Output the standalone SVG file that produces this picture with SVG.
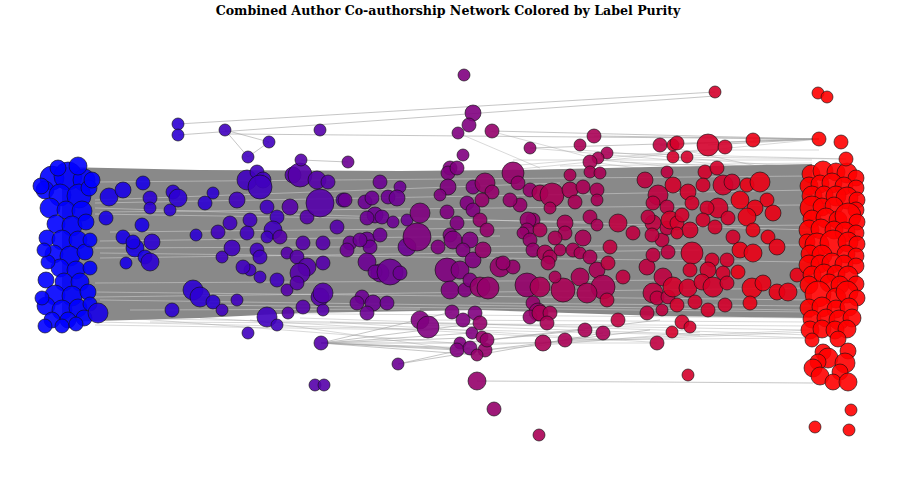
<svg xmlns="http://www.w3.org/2000/svg" width="897" height="494" viewBox="0 0 897 494">
<style>
.t{font-family:"DejaVu Serif","Liberation Serif",serif;font-weight:bold;font-size:12.6px;fill:#000}
.band{fill:#898989}
.f{stroke:#9a9a9a;stroke-width:0.7;stroke-opacity:0.55;fill:none}
.e{stroke:#a0a0a0;stroke-width:0.8;stroke-opacity:0.75;fill:none}
.w{stroke:#ececec;stroke-width:0.8;stroke-opacity:0.5;fill:none}
circle{stroke:#111;stroke-width:0.8;stroke-opacity:0.8;fill-opacity:0.9}
.c0{fill:#0000ff}.c1{fill:#1800e7}.c2{fill:#2c00d3}.c3{fill:#4000bf}.c4{fill:#5500aa}.c5{fill:#6b0094}.c6{fill:#800080}.c7{fill:#95006a}.c8{fill:#aa0055}.c9{fill:#bf0040}.c10{fill:#d4002b}.c11{fill:#ea0015}.c12{fill:#ff0000}
</style>
<rect width="897" height="494" fill="#fff"/>
<text class="t" x="448" y="15" text-anchor="middle">Combined Author Co-authorship Network Colored by Label Purity</text>
<g id="edges">
<path class="f" d="M95,318 L810,330 M95,322 L700,335 M100,316 L480,345 M200,318 L600,340 M250,320 L460,350 M300,318 L810,335 M330,322 L650,342 M420,325 L810,338 M480,345 L810,330 M485,350 L700,332 M460,343 L657,343 M543,343 L810,332 M565,340 L812,338 M420,320 L812,322 M95,312 L812,318 M95,325 L420,330 M150,322 L812,326 M470,172 L812,165 M513,160 L812,160 M580,150 L812,168 M600,160 L810,180 M530,148 L812,172 M660,145 L812,178 M590,162 L812,190 M520,165 L700,150 M490,172 L819,139 M440,172 L812,166 M608,153 L846,159 M673,157 L846,159 M700,150 L819,150 M560,166 L812,163 M620,162 L815,170 M490,131 L600,160 M458,133 L540,168"/>
<path class="band" d="M62,167 L200,170 L400,171 L520,170 L650,167 L812,164 L812,318 L660,316 L480,310 L300,313 L200,318 L62,322 Z"/>
<path class="w" d="M95,203 L810,190 M95,208 L810,230 M100,212 L800,205 M95,248 L810,245 M100,253 L810,262 M100,258 L700,250 M95,292 L810,300 M95,297 L810,288 M100,300 L800,310 M95,214 L600,222 M95,200 L560,183 M95,283 L700,280 M110,232 L810,225 M100,241 L500,236 M200,305 L810,312 M130,310 L420,309 M480,303 L812,306 M95,182 L810,176"/>
<path class="e" d="M178,124 L715,92 M178,135 L715,96 M225,130 L269,142 L248,157 Z M230,134 L819,139 M301,160 L348,162 M492,131 L819,139 M530,148 L819,139 M594,136 L819,139 M660,145 L819,139 M708,145 L819,139 M753,140 L819,139 M321,343 L460,343 M321,343 L472,333 M321,343 L457,350 M321,343 L485,350 M321,343 L480,323 M321,343 L470,348 M321,343 L452,312 M321,343 L465,338 M321,343 L477,355 M398,364 L470,348 M398,364 L485,350 M477,381 L813,383 M485,350 L650,330 M487,340 L660,320 M477,355 L603,333 M460,343 L585,330"/>
</g>
<g id="nodes">
<circle id="n1" class="c0" cx="52" cy="178" r="12"/>
<circle id="n2" class="c0" cx="68" cy="176" r="14"/>
<circle id="n3" class="c0" cx="84" cy="180" r="11"/>
<circle id="n4" class="c0" cx="45" cy="190" r="9"/>
<circle id="n5" class="c0" cx="60" cy="195" r="11"/>
<circle id="n6" class="c0" cx="79" cy="196" r="12"/>
<circle id="n7" class="c0" cx="89" cy="188" r="8"/>
<circle id="n8" class="c0" cx="50" cy="208" r="10"/>
<circle id="n9" class="c0" cx="66" cy="210" r="9"/>
<circle id="n10" class="c0" cx="82" cy="211" r="10"/>
<circle id="n11" class="c0" cx="56" cy="224" r="9"/>
<circle id="n12" class="c0" cx="72" cy="226" r="10"/>
<circle id="n13" class="c0" cx="86" cy="222" r="8"/>
<circle id="n14" class="c0" cx="47" cy="238" r="8"/>
<circle id="n15" class="c0" cx="62" cy="240" r="10"/>
<circle id="n16" class="c0" cx="78" cy="240" r="9"/>
<circle id="n17" class="c0" cx="54" cy="254" r="9"/>
<circle id="n18" class="c0" cx="70" cy="256" r="10"/>
<circle id="n19" class="c0" cx="85" cy="252" r="8"/>
<circle id="n20" class="c0" cx="60" cy="268" r="9"/>
<circle id="n21" class="c0" cx="76" cy="270" r="9"/>
<circle id="n22" class="c0" cx="48" cy="262" r="7"/>
<circle id="n23" class="c0" cx="46" cy="280" r="8"/>
<circle id="n24" class="c0" cx="64" cy="282" r="9"/>
<circle id="n25" class="c0" cx="80" cy="282" r="9"/>
<circle id="n26" class="c0" cx="55" cy="295" r="10"/>
<circle id="n27" class="c0" cx="72" cy="296" r="10"/>
<circle id="n28" class="c0" cx="88" cy="292" r="8"/>
<circle id="n29" class="c0" cx="46" cy="306" r="9"/>
<circle id="n30" class="c0" cx="62" cy="310" r="10"/>
<circle id="n31" class="c0" cx="78" cy="308" r="9"/>
<circle id="n32" class="c0" cx="90" cy="304" r="7"/>
<circle id="n33" class="c0" cx="52" cy="320" r="8"/>
<circle id="n34" class="c0" cx="68" cy="320" r="8"/>
<circle id="n35" class="c0" cx="84" cy="318" r="8"/>
<circle id="n36" class="c0" cx="45" cy="326" r="7"/>
<circle id="n37" class="c0" cx="42" cy="298" r="7"/>
<circle id="n38" class="c0" cx="44" cy="250" r="7"/>
<circle id="n39" class="c0" cx="90" cy="240" r="7"/>
<circle id="n40" class="c0" cx="90" cy="268" r="7"/>
<circle id="n41" class="c0" cx="58" cy="168" r="8"/>
<circle id="n42" class="c0" cx="78" cy="166" r="9"/>
<circle id="n43" class="c0" cx="41" cy="186" r="8"/>
<circle id="n44" class="c0" cx="92" cy="180" r="8"/>
<circle id="n44b" class="c0" cx="62" cy="326" r="7"/>
<circle id="n44c" class="c0" cx="76" cy="324" r="7"/>
<circle id="n45" class="c1" cx="98" cy="313" r="10"/>
<circle id="n46" class="c1" cx="109" cy="197" r="9"/>
<circle id="n47" class="c1" cx="123" cy="190" r="8"/>
<circle id="n48" class="c1" cx="143" cy="183" r="7"/>
<circle id="n49" class="c1" cx="106" cy="218" r="7"/>
<circle id="n50" class="c1" cx="123" cy="237" r="7"/>
<circle id="n51" class="c1" cx="135" cy="248" r="9"/>
<circle id="n52" class="c1" cx="142" cy="225" r="7"/>
<circle id="n53" class="c1" cx="133" cy="242" r="7"/>
<circle id="n54" class="c1" cx="126" cy="263" r="6"/>
<circle id="n55" class="c1" cx="145" cy="257" r="7"/>
<circle id="n56" class="c2" cx="150" cy="198" r="7"/>
<circle id="n57" class="c2" cx="150" cy="208" r="6"/>
<circle id="n58" class="c2" cx="173" cy="192" r="7"/>
<circle id="n59" class="c2" cx="178" cy="198" r="9"/>
<circle id="n60" class="c2" cx="170" cy="210" r="6"/>
<circle id="n61" class="c2" cx="152" cy="242" r="8"/>
<circle id="n62" class="c2" cx="150" cy="262" r="9"/>
<circle id="n63" class="c2" cx="193" cy="290" r="10"/>
<circle id="n64" class="c2" cx="200" cy="297" r="10"/>
<circle id="n65" class="c2" cx="213" cy="302" r="7"/>
<circle id="n66" class="c2" cx="172" cy="310" r="7"/>
<circle id="n67" class="c2" cx="196" cy="235" r="6"/>
<circle id="n68" class="c2" cx="205" cy="203" r="7"/>
<circle id="n69" class="c2" cx="213" cy="193" r="6"/>
<circle id="n70" class="c2" cx="178" cy="124" r="6"/>
<circle id="n71" class="c2" cx="178" cy="135" r="6"/>
<circle id="n72" class="c3" cx="222" cy="310" r="6"/>
<circle id="n73" class="c3" cx="237" cy="300" r="6"/>
<circle id="n74" class="c3" cx="225" cy="130" r="6"/>
<circle id="n75" class="c3" cx="269" cy="142" r="6"/>
<circle id="n76" class="c3" cx="248" cy="157" r="6"/>
<circle id="n77" class="c3" cx="247" cy="180" r="10"/>
<circle id="n78" class="c3" cx="257" cy="172" r="7"/>
<circle id="n79" class="c3" cx="263" cy="180" r="8"/>
<circle id="n80" class="c3" cx="260" cy="187" r="12"/>
<circle id="n81" class="c3" cx="237" cy="200" r="8"/>
<circle id="n82" class="c3" cx="267" cy="207" r="7"/>
<circle id="n83" class="c3" cx="277" cy="217" r="7"/>
<circle id="n84" class="c3" cx="250" cy="220" r="7"/>
<circle id="n85" class="c3" cx="273" cy="230" r="9"/>
<circle id="n86" class="c3" cx="267" cy="237" r="6"/>
<circle id="n87" class="c3" cx="247" cy="233" r="7"/>
<circle id="n88" class="c3" cx="230" cy="223" r="7"/>
<circle id="n89" class="c3" cx="218" cy="232" r="7"/>
<circle id="n90" class="c3" cx="232" cy="248" r="8"/>
<circle id="n91" class="c3" cx="222" cy="257" r="6"/>
<circle id="n92" class="c3" cx="257" cy="250" r="7"/>
<circle id="n93" class="c3" cx="260" cy="257" r="7"/>
<circle id="n94" class="c3" cx="250" cy="270" r="6"/>
<circle id="n95" class="c3" cx="260" cy="277" r="6"/>
<circle id="n96" class="c3" cx="243" cy="267" r="7"/>
<circle id="n97" class="c3" cx="277" cy="280" r="7"/>
<circle id="n98" class="c3" cx="267" cy="317" r="10"/>
<circle id="n99" class="c3" cx="277" cy="325" r="6"/>
<circle id="n100" class="c3" cx="248" cy="333" r="6"/>
<circle id="n101" class="c4" cx="293" cy="175" r="8"/>
<circle id="n102" class="c4" cx="300" cy="175" r="12"/>
<circle id="n103" class="c4" cx="317" cy="180" r="9"/>
<circle id="n104" class="c4" cx="328" cy="182" r="7"/>
<circle id="n105" class="c4" cx="343" cy="200" r="7"/>
<circle id="n106" class="c4" cx="290" cy="207" r="8"/>
<circle id="n107" class="c4" cx="307" cy="217" r="7"/>
<circle id="n108" class="c4" cx="320" cy="203" r="14"/>
<circle id="n109" class="c4" cx="280" cy="237" r="7"/>
<circle id="n110" class="c4" cx="287" cy="253" r="6"/>
<circle id="n111" class="c4" cx="303" cy="243" r="7"/>
<circle id="n112" class="c4" cx="323" cy="243" r="7"/>
<circle id="n113" class="c4" cx="337" cy="227" r="7"/>
<circle id="n114" class="c4" cx="297" cy="257" r="7"/>
<circle id="n115" class="c4" cx="307" cy="267" r="9"/>
<circle id="n116" class="c4" cx="300" cy="273" r="10"/>
<circle id="n117" class="c4" cx="323" cy="263" r="7"/>
<circle id="n118" class="c4" cx="287" cy="290" r="6"/>
<circle id="n119" class="c4" cx="297" cy="283" r="7"/>
<circle id="n120" class="c4" cx="320" cy="297" r="9"/>
<circle id="n121" class="c4" cx="323" cy="293" r="10"/>
<circle id="n122" class="c4" cx="303" cy="307" r="7"/>
<circle id="n123" class="c4" cx="323" cy="310" r="6"/>
<circle id="n124" class="c4" cx="288" cy="313" r="6"/>
<circle id="n125" class="c4" cx="320" cy="130" r="6"/>
<circle id="n126" class="c4" cx="301" cy="160" r="6"/>
<circle id="n127" class="c4" cx="321" cy="343" r="7"/>
<circle id="n128" class="c4" cx="315" cy="385" r="6"/>
<circle id="n129" class="c4" cx="324" cy="385" r="6"/>
<circle id="n130" class="c5" cx="350" cy="243" r="7"/>
<circle id="n131" class="c5" cx="367" cy="240" r="8"/>
<circle id="n132" class="c5" cx="348" cy="162" r="6"/>
<circle id="n133" class="c5" cx="380" cy="182" r="7"/>
<circle id="n134" class="c5" cx="400" cy="187" r="6"/>
<circle id="n135" class="c5" cx="365" cy="202" r="7"/>
<circle id="n136" class="c5" cx="372" cy="198" r="7"/>
<circle id="n137" class="c5" cx="388" cy="197" r="7"/>
<circle id="n138" class="c5" cx="397" cy="198" r="8"/>
<circle id="n139" class="c5" cx="345" cy="200" r="7"/>
<circle id="n140" class="c5" cx="375" cy="215" r="8"/>
<circle id="n141" class="c5" cx="382" cy="217" r="7"/>
<circle id="n142" class="c5" cx="367" cy="218" r="7"/>
<circle id="n143" class="c5" cx="393" cy="222" r="6"/>
<circle id="n144" class="c5" cx="407" cy="220" r="6"/>
<circle id="n145" class="c5" cx="380" cy="235" r="7"/>
<circle id="n146" class="c5" cx="370" cy="247" r="7"/>
<circle id="n147" class="c5" cx="360" cy="240" r="7"/>
<circle id="n148" class="c5" cx="347" cy="250" r="7"/>
<circle id="n149" class="c5" cx="367" cy="262" r="9"/>
<circle id="n150" class="c5" cx="380" cy="273" r="9"/>
<circle id="n151" class="c5" cx="375" cy="272" r="7"/>
<circle id="n152" class="c5" cx="390" cy="272" r="13"/>
<circle id="n153" class="c5" cx="400" cy="273" r="7"/>
<circle id="n154" class="c5" cx="362" cy="297" r="7"/>
<circle id="n155" class="c5" cx="373" cy="303" r="8"/>
<circle id="n156" class="c5" cx="357" cy="303" r="7"/>
<circle id="n157" class="c5" cx="367" cy="313" r="7"/>
<circle id="n158" class="c5" cx="387" cy="303" r="7"/>
<circle id="n159" class="c5" cx="407" cy="247" r="9"/>
<circle id="n160" class="c5" cx="398" cy="364" r="6"/>
<circle id="n161" class="c6" cx="420" cy="213" r="10"/>
<circle id="n162" class="c6" cx="417" cy="237" r="14"/>
<circle id="n163" class="c6" cx="420" cy="320" r="9"/>
<circle id="n164" class="c6" cx="428" cy="327" r="11"/>
<circle id="n165" class="c6" cx="450" cy="168" r="7"/>
<circle id="n166" class="c6" cx="448" cy="173" r="7"/>
<circle id="n167" class="c6" cx="448" cy="187" r="8"/>
<circle id="n168" class="c6" cx="440" cy="195" r="6"/>
<circle id="n169" class="c6" cx="447" cy="212" r="7"/>
<circle id="n170" class="c6" cx="457" cy="223" r="7"/>
<circle id="n171" class="c6" cx="450" cy="235" r="7"/>
<circle id="n172" class="c6" cx="438" cy="247" r="7"/>
<circle id="n173" class="c6" cx="453" cy="240" r="9"/>
<circle id="n174" class="c6" cx="470" cy="240" r="8"/>
<circle id="n175" class="c6" cx="463" cy="250" r="7"/>
<circle id="n176" class="c6" cx="447" cy="270" r="12"/>
<circle id="n177" class="c6" cx="460" cy="270" r="9"/>
<circle id="n178" class="c6" cx="473" cy="260" r="8"/>
<circle id="n179" class="c6" cx="450" cy="290" r="9"/>
<circle id="n180" class="c6" cx="465" cy="290" r="7"/>
<circle id="n181" class="c6" cx="470" cy="280" r="7"/>
<circle id="n182" class="c6" cx="452" cy="312" r="7"/>
<circle id="n183" class="c6" cx="463" cy="320" r="7"/>
<circle id="n184" class="c6" cx="475" cy="313" r="7"/>
<circle id="n185" class="c6" cx="472" cy="333" r="6"/>
<circle id="n186" class="c6" cx="460" cy="343" r="6"/>
<circle id="n187" class="c6" cx="457" cy="350" r="7"/>
<circle id="n188" class="c6" cx="470" cy="348" r="7"/>
<circle id="n189" class="c6" cx="463" cy="155" r="6"/>
<circle id="n190" class="c6" cx="457" cy="168" r="7"/>
<circle id="n191" class="c6" cx="473" cy="187" r="7"/>
<circle id="n192" class="c6" cx="467" cy="203" r="7"/>
<circle id="n193" class="c6" cx="473" cy="210" r="7"/>
<circle id="n194" class="c6" cx="464" cy="75" r="6"/>
<circle id="n195" class="c6" cx="473" cy="113" r="8"/>
<circle id="n196" class="c6" cx="469" cy="125" r="7"/>
<circle id="n197" class="c6" cx="458" cy="133" r="6"/>
<circle id="n198" class="c7" cx="480" cy="220" r="7"/>
<circle id="n199" class="c7" cx="487" cy="230" r="7"/>
<circle id="n200" class="c7" cx="483" cy="250" r="8"/>
<circle id="n201" class="c7" cx="480" cy="287" r="10"/>
<circle id="n202" class="c7" cx="488" cy="288" r="11"/>
<circle id="n203" class="c7" cx="480" cy="323" r="7"/>
<circle id="n204" class="c7" cx="482" cy="337" r="6"/>
<circle id="n205" class="c7" cx="485" cy="350" r="7"/>
<circle id="n206" class="c7" cx="477" cy="355" r="6"/>
<circle id="n207" class="c7" cx="487" cy="340" r="7"/>
<circle id="n208" class="c7" cx="485" cy="183" r="10"/>
<circle id="n209" class="c7" cx="492" cy="192" r="7"/>
<circle id="n210" class="c7" cx="482" cy="200" r="7"/>
<circle id="n211" class="c7" cx="513" cy="173" r="11"/>
<circle id="n212" class="c7" cx="530" cy="148" r="6"/>
<circle id="n213" class="c7" cx="530" cy="190" r="7"/>
<circle id="n214" class="c7" cx="518" cy="183" r="7"/>
<circle id="n215" class="c7" cx="520" cy="205" r="7"/>
<circle id="n216" class="c7" cx="510" cy="200" r="7"/>
<circle id="n217" class="c7" cx="533" cy="220" r="7"/>
<circle id="n218" class="c7" cx="528" cy="220" r="8"/>
<circle id="n219" class="c7" cx="527" cy="230" r="7"/>
<circle id="n220" class="c7" cx="523" cy="233" r="6"/>
<circle id="n221" class="c7" cx="530" cy="240" r="7"/>
<circle id="n222" class="c7" cx="533" cy="250" r="7"/>
<circle id="n223" class="c7" cx="500" cy="267" r="10"/>
<circle id="n224" class="c7" cx="513" cy="267" r="7"/>
<circle id="n225" class="c7" cx="503" cy="263" r="7"/>
<circle id="n226" class="c7" cx="527" cy="285" r="12"/>
<circle id="n227" class="c7" cx="533" cy="303" r="7"/>
<circle id="n228" class="c7" cx="538" cy="312" r="9"/>
<circle id="n229" class="c7" cx="530" cy="317" r="7"/>
<circle id="n230" class="c7" cx="492" cy="131" r="7"/>
<circle id="n231" class="c7" cx="477" cy="381" r="9"/>
<circle id="n232" class="c7" cx="494" cy="409" r="7"/>
<circle id="n233" class="c8" cx="540" cy="193" r="8"/>
<circle id="n234" class="c8" cx="540" cy="230" r="7"/>
<circle id="n235" class="c8" cx="545" cy="253" r="8"/>
<circle id="n236" class="c8" cx="540" cy="287" r="10"/>
<circle id="n237" class="c8" cx="540" cy="313" r="8"/>
<circle id="n238" class="c8" cx="543" cy="343" r="8"/>
<circle id="n239" class="c8" cx="594" cy="136" r="7"/>
<circle id="n240" class="c8" cx="580" cy="145" r="6"/>
<circle id="n241" class="c8" cx="607" cy="153" r="6"/>
<circle id="n242" class="c8" cx="598" cy="158" r="6"/>
<circle id="n243" class="c8" cx="590" cy="162" r="7"/>
<circle id="n244" class="c8" cx="590" cy="172" r="6"/>
<circle id="n245" class="c8" cx="600" cy="173" r="6"/>
<circle id="n246" class="c8" cx="570" cy="175" r="6"/>
<circle id="n247" class="c8" cx="552" cy="195" r="12"/>
<circle id="n248" class="c8" cx="570" cy="190" r="8"/>
<circle id="n249" class="c8" cx="583" cy="187" r="7"/>
<circle id="n250" class="c8" cx="597" cy="190" r="7"/>
<circle id="n251" class="c8" cx="575" cy="202" r="7"/>
<circle id="n252" class="c8" cx="597" cy="200" r="6"/>
<circle id="n253" class="c8" cx="550" cy="208" r="6"/>
<circle id="n254" class="c8" cx="565" cy="223" r="8"/>
<circle id="n255" class="c8" cx="565" cy="233" r="7"/>
<circle id="n256" class="c8" cx="583" cy="238" r="8"/>
<circle id="n257" class="c8" cx="590" cy="217" r="7"/>
<circle id="n258" class="c8" cx="597" cy="225" r="6"/>
<circle id="n259" class="c8" cx="555" cy="238" r="7"/>
<circle id="n260" class="c8" cx="550" cy="257" r="7"/>
<circle id="n261" class="c8" cx="560" cy="250" r="6"/>
<circle id="n262" class="c8" cx="573" cy="250" r="7"/>
<circle id="n263" class="c8" cx="580" cy="253" r="6"/>
<circle id="n264" class="c8" cx="590" cy="257" r="7"/>
<circle id="n265" class="c8" cx="597" cy="270" r="8"/>
<circle id="n266" class="c8" cx="580" cy="277" r="9"/>
<circle id="n267" class="c8" cx="603" cy="287" r="12"/>
<circle id="n268" class="c8" cx="587" cy="293" r="10"/>
<circle id="n269" class="c8" cx="563" cy="290" r="12"/>
<circle id="n270" class="c8" cx="555" cy="277" r="6"/>
<circle id="n271" class="c8" cx="548" cy="263" r="7"/>
<circle id="n272" class="c8" cx="550" cy="313" r="7"/>
<circle id="n273" class="c8" cx="547" cy="323" r="7"/>
<circle id="n274" class="c8" cx="585" cy="330" r="7"/>
<circle id="n275" class="c8" cx="603" cy="333" r="7"/>
<circle id="n276" class="c8" cx="565" cy="340" r="7"/>
<circle id="n277" class="c8" cx="539" cy="435" r="6"/>
<circle id="n278" class="c9" cx="607" cy="300" r="7"/>
<circle id="n279" class="c9" cx="618" cy="223" r="9"/>
<circle id="n280" class="c9" cx="633" cy="233" r="7"/>
<circle id="n281" class="c9" cx="610" cy="247" r="7"/>
<circle id="n282" class="c9" cx="608" cy="263" r="7"/>
<circle id="n283" class="c9" cx="647" cy="267" r="8"/>
<circle id="n284" class="c9" cx="663" cy="277" r="9"/>
<circle id="n285" class="c9" cx="653" cy="293" r="10"/>
<circle id="n286" class="c9" cx="647" cy="313" r="7"/>
<circle id="n287" class="c9" cx="662" cy="310" r="6"/>
<circle id="n288" class="c9" cx="623" cy="277" r="7"/>
<circle id="n289" class="c9" cx="618" cy="320" r="7"/>
<circle id="n290" class="c9" cx="657" cy="343" r="7"/>
<circle id="n291" class="c9" cx="660" cy="145" r="7"/>
<circle id="n292" class="c9" cx="645" cy="180" r="8"/>
<circle id="n293" class="c9" cx="658" cy="195" r="10"/>
<circle id="n294" class="c9" cx="653" cy="203" r="7"/>
<circle id="n295" class="c9" cx="667" cy="207" r="7"/>
<circle id="n296" class="c9" cx="653" cy="223" r="8"/>
<circle id="n297" class="c9" cx="662" cy="240" r="7"/>
<circle id="n298" class="c9" cx="667" cy="172" r="6"/>
<circle id="n299" class="c9" cx="648" cy="217" r="7"/>
<circle id="n300" class="c9" cx="667" cy="228" r="7"/>
<circle id="n301" class="c9" cx="652" cy="235" r="7"/>
<circle id="n302" class="c9" cx="668" cy="252" r="7"/>
<circle id="n303" class="c9" cx="653" cy="255" r="7"/>
<circle id="n304" class="c9" cx="657" cy="298" r="7"/>
<circle id="n305" class="c9" cx="668" cy="297" r="7"/>
<circle id="n306" class="c10" cx="673" cy="145" r="6"/>
<circle id="n307" class="c10" cx="673" cy="157" r="6"/>
<circle id="n308" class="c10" cx="677" cy="143" r="7"/>
<circle id="n309" class="c10" cx="687" cy="157" r="6"/>
<circle id="n310" class="c10" cx="708" cy="145" r="11"/>
<circle id="n311" class="c10" cx="725" cy="147" r="7"/>
<circle id="n312" class="c10" cx="673" cy="185" r="8"/>
<circle id="n313" class="c10" cx="688" cy="192" r="8"/>
<circle id="n314" class="c10" cx="692" cy="203" r="7"/>
<circle id="n315" class="c10" cx="705" cy="172" r="7"/>
<circle id="n316" class="c10" cx="703" cy="185" r="7"/>
<circle id="n317" class="c10" cx="717" cy="168" r="7"/>
<circle id="n318" class="c10" cx="723" cy="185" r="10"/>
<circle id="n319" class="c10" cx="732" cy="182" r="8"/>
<circle id="n320" class="c10" cx="718" cy="208" r="10"/>
<circle id="n321" class="c10" cx="707" cy="208" r="7"/>
<circle id="n322" class="c10" cx="728" cy="218" r="7"/>
<circle id="n323" class="c10" cx="670" cy="220" r="9"/>
<circle id="n324" class="c10" cx="677" cy="223" r="7"/>
<circle id="n325" class="c10" cx="690" cy="230" r="8"/>
<circle id="n326" class="c10" cx="703" cy="220" r="7"/>
<circle id="n327" class="c10" cx="682" cy="215" r="7"/>
<circle id="n328" class="c10" cx="715" cy="227" r="7"/>
<circle id="n329" class="c10" cx="677" cy="233" r="6"/>
<circle id="n330" class="c10" cx="692" cy="253" r="11"/>
<circle id="n331" class="c10" cx="712" cy="260" r="7"/>
<circle id="n332" class="c10" cx="727" cy="260" r="7"/>
<circle id="n333" class="c10" cx="733" cy="237" r="7"/>
<circle id="n334" class="c10" cx="723" cy="273" r="7"/>
<circle id="n335" class="c10" cx="708" cy="270" r="8"/>
<circle id="n336" class="c10" cx="690" cy="270" r="7"/>
<circle id="n337" class="c10" cx="673" cy="287" r="10"/>
<circle id="n338" class="c10" cx="688" cy="288" r="9"/>
<circle id="n339" class="c10" cx="702" cy="282" r="8"/>
<circle id="n340" class="c10" cx="713" cy="287" r="10"/>
<circle id="n341" class="c10" cx="727" cy="283" r="7"/>
<circle id="n342" class="c10" cx="677" cy="305" r="7"/>
<circle id="n343" class="c10" cx="695" cy="302" r="7"/>
<circle id="n344" class="c10" cx="708" cy="310" r="7"/>
<circle id="n345" class="c10" cx="725" cy="305" r="7"/>
<circle id="n346" class="c10" cx="682" cy="322" r="7"/>
<circle id="n347" class="c10" cx="690" cy="327" r="6"/>
<circle id="n348" class="c10" cx="672" cy="332" r="6"/>
<circle id="n349" class="c10" cx="688" cy="375" r="6"/>
<circle id="n350" class="c10" cx="715" cy="92" r="6"/>
<circle id="n351" class="c11" cx="753" cy="140" r="7"/>
<circle id="n352" class="c11" cx="747" cy="185" r="7"/>
<circle id="n353" class="c11" cx="760" cy="182" r="10"/>
<circle id="n354" class="c11" cx="767" cy="200" r="7"/>
<circle id="n355" class="c11" cx="755" cy="208" r="8"/>
<circle id="n356" class="c11" cx="740" cy="200" r="9"/>
<circle id="n357" class="c11" cx="747" cy="217" r="9"/>
<circle id="n358" class="c11" cx="773" cy="213" r="8"/>
<circle id="n359" class="c11" cx="753" cy="230" r="7"/>
<circle id="n360" class="c11" cx="768" cy="237" r="7"/>
<circle id="n361" class="c11" cx="777" cy="247" r="8"/>
<circle id="n362" class="c11" cx="740" cy="250" r="8"/>
<circle id="n363" class="c11" cx="753" cy="253" r="9"/>
<circle id="n364" class="c11" cx="738" cy="272" r="7"/>
<circle id="n365" class="c11" cx="752" cy="288" r="10"/>
<circle id="n366" class="c11" cx="763" cy="283" r="8"/>
<circle id="n367" class="c11" cx="777" cy="292" r="8"/>
<circle id="n368" class="c11" cx="788" cy="292" r="9"/>
<circle id="n369" class="c11" cx="797" cy="275" r="7"/>
<circle id="n370" class="c11" cx="750" cy="303" r="7"/>
<circle id="n371" class="c12" cx="811" cy="174" r="9"/>
<circle id="n372" class="c12" cx="823" cy="171" r="10"/>
<circle id="n373" class="c12" cx="836" cy="172" r="9"/>
<circle id="n374" class="c12" cx="847" cy="173" r="10"/>
<circle id="n375" class="c12" cx="856" cy="178" r="8"/>
<circle id="n376" class="c12" cx="809" cy="186" r="9"/>
<circle id="n377" class="c12" cx="820" cy="184" r="9"/>
<circle id="n378" class="c12" cx="832" cy="183" r="10"/>
<circle id="n379" class="c12" cx="844" cy="186" r="9"/>
<circle id="n380" class="c12" cx="856" cy="188" r="8"/>
<circle id="n381" class="c12" cx="812" cy="196" r="10"/>
<circle id="n382" class="c12" cx="824" cy="195" r="9"/>
<circle id="n383" class="c12" cx="836" cy="196" r="10"/>
<circle id="n384" class="c12" cx="847" cy="198" r="11"/>
<circle id="n385" class="c12" cx="857" cy="200" r="8"/>
<circle id="n386" class="c12" cx="812" cy="208" r="12"/>
<circle id="n387" class="c12" cx="822" cy="207" r="9"/>
<circle id="n388" class="c12" cx="834" cy="206" r="9"/>
<circle id="n389" class="c12" cx="856" cy="210" r="8"/>
<circle id="n390" class="c12" cx="812" cy="219" r="9"/>
<circle id="n391" class="c12" cx="826" cy="218" r="10"/>
<circle id="n392" class="c12" cx="838" cy="220" r="9"/>
<circle id="n393" class="c12" cx="848" cy="216" r="13"/>
<circle id="n394" class="c12" cx="857" cy="222" r="8"/>
<circle id="n395" class="c12" cx="809" cy="230" r="10"/>
<circle id="n396" class="c12" cx="821" cy="229" r="10"/>
<circle id="n397" class="c12" cx="834" cy="230" r="9"/>
<circle id="n398" class="c12" cx="845" cy="232" r="10"/>
<circle id="n399" class="c12" cx="856" cy="233" r="8"/>
<circle id="n400" class="c12" cx="807" cy="242" r="8"/>
<circle id="n401" class="c12" cx="817" cy="245" r="12"/>
<circle id="n402" class="c12" cx="833" cy="243" r="13"/>
<circle id="n403" class="c12" cx="848" cy="242" r="10"/>
<circle id="n404" class="c12" cx="857" cy="244" r="8"/>
<circle id="n405" class="c12" cx="810" cy="254" r="9"/>
<circle id="n406" class="c12" cx="822" cy="255" r="10"/>
<circle id="n407" class="c12" cx="846" cy="254" r="9"/>
<circle id="n408" class="c12" cx="856" cy="256" r="8"/>
<circle id="n409" class="c12" cx="809" cy="265" r="10"/>
<circle id="n410" class="c12" cx="820" cy="264" r="9"/>
<circle id="n411" class="c12" cx="832" cy="263" r="10"/>
<circle id="n412" class="c12" cx="844" cy="264" r="9"/>
<circle id="n413" class="c12" cx="856" cy="266" r="8"/>
<circle id="n414" class="c12" cx="812" cy="275" r="9"/>
<circle id="n415" class="c12" cx="824" cy="274" r="10"/>
<circle id="n416" class="c12" cx="836" cy="274" r="9"/>
<circle id="n417" class="c12" cx="848" cy="276" r="10"/>
<circle id="n418" class="c12" cx="809" cy="285" r="9"/>
<circle id="n419" class="c12" cx="829" cy="283" r="9"/>
<circle id="n420" class="c12" cx="840" cy="285" r="9"/>
<circle id="n421" class="c12" cx="856" cy="284" r="8"/>
<circle id="n422" class="c12" cx="818" cy="294" r="13"/>
<circle id="n423" class="c12" cx="836" cy="298" r="10"/>
<circle id="n424" class="c12" cx="847" cy="292" r="11"/>
<circle id="n425" class="c12" cx="857" cy="298" r="8"/>
<circle id="n426" class="c12" cx="809" cy="308" r="9"/>
<circle id="n427" class="c12" cx="822" cy="307" r="10"/>
<circle id="n428" class="c12" cx="836" cy="309" r="9"/>
<circle id="n429" class="c12" cx="849" cy="307" r="9"/>
<circle id="n430" class="c12" cx="812" cy="319" r="9"/>
<circle id="n431" class="c12" cx="826" cy="318" r="9"/>
<circle id="n432" class="c12" cx="839" cy="320" r="10"/>
<circle id="n433" class="c12" cx="852" cy="318" r="9"/>
<circle id="n434" class="c12" cx="810" cy="330" r="9"/>
<circle id="n435" class="c12" cx="822" cy="329" r="9"/>
<circle id="n436" class="c12" cx="835" cy="330" r="9"/>
<circle id="n437" class="c12" cx="847" cy="329" r="9"/>
<circle id="n438" class="c12" cx="812" cy="340" r="7"/>
<circle id="n439" class="c12" cx="838" cy="339" r="8"/>
<circle id="n440" class="c12" cx="823" cy="352" r="8"/>
<circle id="n441" class="c12" cx="848" cy="351" r="8"/>
<circle id="n442" class="c12" cx="828" cy="358" r="10"/>
<circle id="n443" class="c12" cx="818" cy="362" r="8"/>
<circle id="n444" class="c12" cx="845" cy="363" r="10"/>
<circle id="n445" class="c12" cx="813" cy="368" r="9"/>
<circle id="n446" class="c12" cx="840" cy="372" r="8"/>
<circle id="n447" class="c12" cx="820" cy="376" r="9"/>
<circle id="n448" class="c12" cx="833" cy="382" r="8"/>
<circle id="n449" class="c12" cx="848" cy="382" r="9"/>
<circle id="n450" class="c12" cx="818" cy="93" r="6"/>
<circle id="n451" class="c12" cx="827" cy="97" r="6"/>
<circle id="n452" class="c12" cx="819" cy="139" r="7"/>
<circle id="n453" class="c12" cx="841" cy="142" r="7"/>
<circle id="n454" class="c12" cx="846" cy="159" r="7"/>
<circle id="n455" class="c12" cx="851" cy="410" r="6"/>
<circle id="n456" class="c12" cx="815" cy="427" r="6"/>
<circle id="n457" class="c12" cx="849" cy="430" r="6"/>
</g>
</svg>
